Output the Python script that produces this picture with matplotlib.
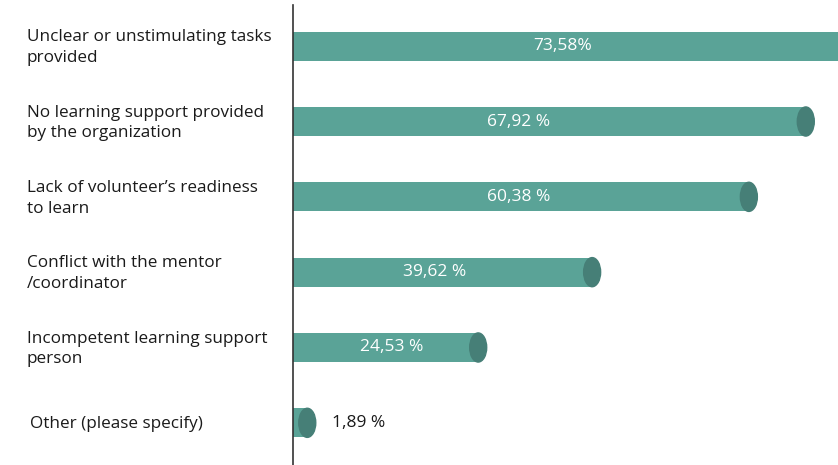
import matplotlib.pyplot as plt
from matplotlib.patches import Ellipse

categories = [
    "Unclear or unstimulating tasks\nprovided",
    "No learning support provided\nby the organization",
    "Lack of volunteer\u2019s readiness\nto learn",
    "Conflict with the mentor\n/coordinator",
    "Incompetent learning support\nperson",
    "Other (please specify)",
]
values = [73.58, 67.92, 60.38, 39.62, 24.53, 1.89]
value_labels = ["73,58%", "67,92 %", "60,38 %", "39,62 %", "24,53 %", "1,89 %"]

BAR = "#5aa397"
CAP = "#467f77"
FONT = "Open Sans"

fig = plt.figure(figsize=(8.38, 4.65), dpi=100)
ax = fig.add_axes([293 / 838, 0, 1 - 293 / 838, 460 / 465])

px = 7.55  # pixels per percent
ax.set_xlim(0, 545 / px)
ax.set_ylim(5 + 42 / 75, -41 / 75)

bar_h = 29 / 75
y = list(range(len(values)))
ax.barh(y, values, height=bar_h, color=BAR, zorder=2)

# darker end caps to give the cylinder look
cap_w = 17 / px
for yi, v in zip(y, values):
    ax.add_patch(Ellipse((v, yi), cap_w, bar_h, color=CAP, zorder=3))

# label centres in data units
label_x = [(563 - 293) / px, (519 - 293) / px, (519 - 293) / px,
           (435 - 293) / px, (392 - 293) / px]
for yi, lx, t in zip(y, label_x, value_labels):
    ax.text(lx, yi, t, color="white", ha="center", va="center",
            fontsize=12.5, family=FONT, zorder=4)
ax.text((332 - 293) / px, y[-1], value_labels[-1], color="#1a1a1a",
        ha="left", va="center", fontsize=12.5, family=FONT)

for yi, c in zip(y, categories):
    lx = -263 / px if "\n" not in c else -266 / px
    ax.text(lx, yi + 0.02, c, ha="left", va="center", fontsize=12.3,
            family=FONT, color="#1a1a1a", linespacing=1.4, clip_on=False)

for s in ["top", "right", "bottom"]:
    ax.spines[s].set_visible(False)
ax.spines["left"].set_color("#333333")
ax.spines["left"].set_linewidth(1.2)
ax.set_xticks([])
ax.set_yticks([])

fig.savefig("out.png", dpi=100)
